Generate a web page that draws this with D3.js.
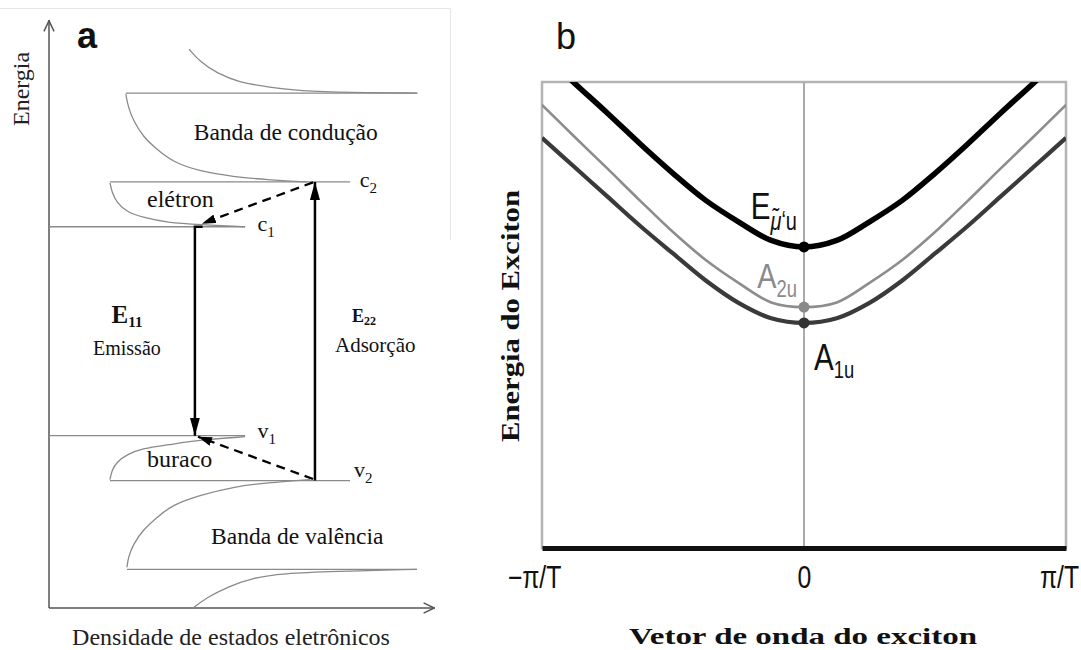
<!DOCTYPE html>
<html><head><meta charset="utf-8">
<script src="https://cdn.jsdelivr.net/npm/d3@7"></script>
<style>
html,body{margin:0;padding:0;background:#fff;}
svg{display:block;}
</style></head><body>
<svg id="fig" width="1081" height="650"></svg>
<script>
// ---------- Panel a: electronic density of states (energy vs DOS) ----------
// band-edge levels: energy and horizontal extent on the DOS axis
const levelNames     = ["c3", "c2", "c1", "v1", "v2", "v3"];
const levelEnergy    = [2.28, 1.43, 1.0, -1.0, -1.43, -2.28];
const levelDosStart  = [1.99, 1.58, 0, 0, 1.58, 2.02];
const levelDosEnd    = [9.55, 7.8, 5.08, 5.08, 7.8, 9.53];

// density-of-states curves, [dos, energy]
const dosAboveC3   = [[3.63,2.70],[3.91,2.58],[4.35,2.47],[4.95,2.38],[5.65,2.34],[6.50,2.30],[7.80,2.285],[9.53,2.28]];
const dosConduction= [[1.99,2.27],[2.05,2.15],[2.18,2.02],[2.44,1.86],[2.80,1.74],[3.21,1.62],[3.91,1.53],[4.77,1.48],[5.65,1.45],[6.68,1.43]];
const dosElectron  = [[1.58,1.42],[1.63,1.33],[1.76,1.23],[2.02,1.14],[2.44,1.09],[3.06,1.04],[3.91,1.02],[5.08,1.0]];
const dosHole      = [[1.58,-1.42],[1.63,-1.33],[1.76,-1.25],[2.02,-1.18],[2.44,-1.12],[3.06,-1.09],[3.91,-1.04],[5.08,-1.01]];
const dosValence   = [[6.76,-1.42],[5.65,-1.45],[4.77,-1.49],[3.91,-1.57],[3.21,-1.66],[2.80,-1.78],[2.44,-1.90],[2.18,-2.04],[2.05,-2.17],[2.02,-2.26]];
const dosBelowV3   = [[3.73,-2.65],[4.09,-2.55],[4.61,-2.45],[5.28,-2.36],[6.06,-2.32],[7.36,-2.30],[9.53,-2.28]];

// optical transitions and relaxation paths, [dos, energy]
const emissionPath   = [[3.98,1.0],[3.78,1.0],[3.78,-1.0]];
const absorptionPath = [[6.89,-1.43],[6.89,1.43]];
const electronRelax  = [[6.84,1.425],[3.96,1.03]];
const holeRelax      = [[6.84,-1.415],[3.86,-1.01]];

// ---------- Panel b: exciton dispersion ----------
const waveVector = [-1,-0.875,-0.75,-0.625,-0.5,-0.375,-0.25,-0.125,0,0.125,0.25,0.375,0.5,0.625,0.75,0.875,1];
const energyEu   = [106.2,99.7,93.3,86.7,80.4,74.6,70.0,66.0,64.6,66.0,70.0,74.6,80.4,86.7,93.3,99.7,106.2];
const energyA2u  = [95.1,88.2,81.4,74.5,67.8,61.8,56.9,52.7,51.7,52.7,56.9,61.8,67.8,74.5,81.4,88.2,95.1];
const energyA1u  = [88.0,81.7,75.4,69.1,63.2,57.4,52.6,49.3,48.3,49.3,52.6,57.4,63.2,69.1,75.4,81.7,88.0];
const tickValuesB = [-1, 0, 1];
const tickLabelsB = ["\u2212\u03C0/T", "0", "\u03C0/T"];

const svg = d3.select("#fig");
const serif = "'Liberation Serif','Times New Roman',serif";
const sans = "'Liberation Sans',Arial,sans-serif";
const condense = 0.8;   // horizontal squeeze for the condensed sans labels
const defs = svg.append("defs");

// arrow markers
function marker(id, w, h, filled) {
  const m = defs.append("marker").attr("id", id)
    .attr("markerUnits", "userSpaceOnUse")
    .attr("viewBox", "0 0 10 10").attr("refX", 10).attr("refY", 5)
    .attr("markerWidth", w).attr("markerHeight", h).attr("orient", "auto")
    .attr("preserveAspectRatio", "none");
  if (filled) m.append("path").attr("d", "M0,0L10,5L0,10Z").attr("fill", "#000");
  else m.append("path").attr("d", "M0.5,0.8L9.5,5L0.5,9.2").attr("fill", "none")
        .attr("stroke", "#555").attr("stroke-width", 1.2);
}
marker("arrowBig", 18, 10, true);
marker("arrowSmall", 14, 9, true);
marker("chevron", 12, 12, false);

// faint panel edge
svg.append("path").attr("d", "M0,8.5H450.5V240").attr("fill", "none")
  .attr("stroke", "#e6e6e6").attr("stroke-width", 1);

// ================= Panel a =================
const xA = d3.scaleLinear().domain([0, 10]).range([49, 435]);
const yA = d3.scaleLinear().domain([-2.65, 2.98]).range([608, 20]);
const gA = svg.append("g");

// axes with open arrowheads
gA.append("line").attr("x1", xA(0)).attr("y1", yA(-2.65)).attr("x2", xA(0)).attr("y2", yA(2.98))
  .attr("stroke", "#555").attr("stroke-width", 1.5).attr("marker-end", "url(#chevron)");
gA.append("line").attr("x1", xA(0)).attr("y1", yA(-2.65)).attr("x2", xA(10)).attr("y2", yA(-2.65))
  .attr("stroke", "#555").attr("stroke-width", 1.5).attr("marker-end", "url(#chevron)");

// band-edge lines
gA.selectAll("line.level").data(levelNames).join("line").attr("class", "level")
  .attr("x1", (d, i) => xA(levelDosStart[i])).attr("x2", (d, i) => xA(levelDosEnd[i]))
  .attr("y1", (d, i) => yA(levelEnergy[i])).attr("y2", (d, i) => yA(levelEnergy[i]))
  .attr("stroke", "#8a8a8a").attr("stroke-width", 1.4);

// DOS curves
const lineA = d3.line().x(d => xA(d[0])).y(d => yA(d[1])).curve(d3.curveBasis);
[dosAboveC3, dosConduction, dosElectron, dosHole, dosValence, dosBelowV3].forEach(c => {
  gA.append("path").attr("d", lineA(c)).attr("fill", "none")
    .attr("stroke", "#8a8a8a").attr("stroke-width", 1.3);
});

// transitions
const lineStraight = d3.line().x(d => xA(d[0])).y(d => yA(d[1]));
gA.append("path").attr("d", lineStraight(emissionPath)).attr("fill", "none")
  .attr("stroke", "#000").attr("stroke-width", 2.5).attr("marker-end", "url(#arrowBig)");
gA.append("path").attr("d", lineStraight(absorptionPath)).attr("fill", "none")
  .attr("stroke", "#000").attr("stroke-width", 2.5).attr("marker-end", "url(#arrowBig)");
[electronRelax, holeRelax].forEach(p => {
  gA.append("path").attr("d", lineStraight(p)).attr("fill", "none")
    .attr("stroke", "#000").attr("stroke-width", 2.3).attr("stroke-dasharray", "9,6")
    .attr("marker-end", "url(#arrowSmall)");
});

// level labels (c1, c2, v1, v2): [dos position, level index, baseline offset]
const levelLabels = [["c2", 8.05, 1, 5], ["c1", 5.4, 2, 4], ["v1", 5.4, 3, 2], ["v2", 7.9, 4, -4]];
levelLabels.forEach(([name, dos, li, off]) => {
  const t = gA.append("text").attr("x", xA(dos)).attr("y", yA(levelEnergy[li]) + off)
    .attr("font-family", serif).attr("font-size", 22).attr("fill", "#111");
  t.append("tspan").text(name[0]);
  t.append("tspan").attr("font-size", 15).attr("dy", 6).text(name[1]);
});

// band and carrier names
const textA = (x, y, s, size) => gA.append("text").attr("x", x).attr("y", y)
  .attr("font-family", serif).attr("font-size", size).attr("fill", "#111").text(s);
textA(xA(3.75), yA(1.83), "Banda de condução", 23.5);
textA(xA(2.54), yA(1.19), "elétron", 24);
textA(xA(2.54), yA(-1.3), "buraco", 24);
textA(xA(4.2), yA(-2.04), "Banda de valência", 23.5);

// transition labels
const e11 = gA.append("text").attr("x", xA(1.62)).attr("y", yA(0.08)).attr("font-family", serif)
  .attr("font-weight", "bold").attr("font-size", 25).attr("fill", "#111");
e11.append("tspan").text("E");
e11.append("tspan").attr("font-size", 15).attr("dy", 4).text("11");
textA(xA(1.14), yA(-0.23), "Emissão", 20);
const e22 = gA.append("text").attr("x", xA(7.85)).attr("y", yA(0.09)).attr("font-family", serif)
  .attr("font-weight", "bold").attr("font-size", 18).attr("fill", "#111");
e22.append("tspan").text("E");
e22.append("tspan").attr("font-size", 12).attr("dy", 3).text("22");
textA(xA(7.41), yA(-0.2), "Adsorção", 21);

// axis titles
gA.append("text").attr("transform", `translate(29,${yA(2.32)}) rotate(-90)`)
  .attr("text-anchor", "middle").attr("font-family", serif).attr("font-size", 24)
  .attr("fill", "#222").text("Energia");
gA.append("text").attr("x", 231).attr("y", 645).attr("text-anchor", "middle")
  .attr("font-family", serif).attr("font-size", 24).attr("fill", "#222")
  .text("Densidade de estados eletrônicos");

// panel letter
svg.append("text").attr("x", 77).attr("y", 48).attr("font-family", sans)
  .attr("font-weight", "bold").attr("font-size", 36).attr("fill", "#111").text("a");

// ================= Panel b =================
const xB = d3.scaleLinear().domain([-1, 1]).range([542, 1066]);
const yB = d3.scaleLinear().domain([0, 100]).range([548, 82]);
const gB = svg.append("g");

defs.append("clipPath").attr("id", "plotB").append("rect")
  .attr("x", xB(-1)).attr("y", yB(100)).attr("width", xB(1) - xB(-1)).attr("height", yB(0) - yB(100));

// frame and zone-centre line
gB.append("rect").attr("x", xB(-1)).attr("y", yB(100)).attr("width", xB(1) - xB(-1))
  .attr("height", yB(0) - yB(100)).attr("fill", "none").attr("stroke", "#b4b4b4").attr("stroke-width", 2.5);
gB.append("line").attr("x1", xB(0)).attr("x2", xB(0)).attr("y1", yB(100)).attr("y2", yB(0))
  .attr("stroke", "#aaa").attr("stroke-width", 2);

// dispersion curves
const series = [
  { vals: energyA1u, color: "#3a3a3a", width: 4.2, dot: "#333" },
  { vals: energyA2u, color: "#8c8c8c", width: 2.6, dot: "#8a8a8a" },
  { vals: energyEu,  color: "#000",    width: 5.5, dot: "#000" }
];
const lineB = d3.line().x((d, i) => xB(waveVector[i])).y(d => yB(d)).curve(d3.curveCatmullRom.alpha(0.5));
const curves = gB.append("g").attr("clip-path", "url(#plotB)");
series.forEach(s => {
  curves.append("path").attr("d", lineB(s.vals)).attr("fill", "none")
    .attr("stroke", s.color).attr("stroke-width", s.width).attr("stroke-linejoin", "round");
});
const i0 = waveVector.indexOf(0);
series.forEach(s => {
  gB.append("circle").attr("cx", xB(0)).attr("cy", yB(s.vals[i0])).attr("r", 5.5).attr("fill", s.dot);
});

// state labels (condensed sans)
const condensedText = (x, y, anchor, size, color) => gB.append("text")
  .attr("transform", `translate(${x},${y}) scale(${condense},1)`)
  .attr("text-anchor", anchor).attr("font-family", sans).attr("font-size", size).attr("fill", color);

const eLab = condensedText(xB(0) - 7, yB(energyEu[i0]) - 28, "end", 37, "#111");
eLab.append("tspan").text("E");
eLab.append("tspan").attr("font-size", 25).attr("dy", 11).attr("font-style", "italic").text("\u03BC\u0303");
eLab.append("tspan").attr("font-size", 25).text("\u02BBu");

const a2Lab = condensedText(xB(0) - 7, yB(energyA2u[i0]) - 19, "end", 36, "#8a8a8a");
a2Lab.append("tspan").text("A");
a2Lab.append("tspan").attr("font-size", 23).attr("dy", 9).text("2u");

const a1Lab = condensedText(xB(0) + 10, yB(energyA1u[i0]) + 47, "start", 37, "#111");
a1Lab.append("tspan").text("A");
a1Lab.append("tspan").attr("font-size", 23).attr("dy", 8).text("1u");

// wave-vector axis
const tickShift = [-8, 0, -7];
const axB = gB.append("g").attr("transform", `translate(0,${yB(0)})`)
  .call(d3.axisBottom(xB).tickValues(tickValuesB).tickFormat((d, i) => tickLabelsB[i])
    .tickSize(0).tickSizeOuter(0).tickPadding(18));
axB.select(".domain").attr("stroke", "#111").attr("stroke-width", 5);
axB.selectAll(".tick text").attr("font-family", sans).attr("font-size", 31).attr("fill", "#111")
  .attr("transform", (d, i) => `translate(${tickShift[i]},0) scale(${condense},1)`);

// axis titles
gB.append("text").attr("x", 803).attr("y", 644).attr("text-anchor", "middle")
  .attr("font-family", serif).attr("font-weight", "bold").attr("font-size", 24).attr("fill", "#111")
  .attr("textLength", 348).attr("lengthAdjust", "spacingAndGlyphs").text("Vetor de onda do exciton");
gB.append("text").attr("transform", "translate(519,316) rotate(-90)").attr("text-anchor", "middle")
  .attr("font-family", serif).attr("font-weight", "bold").attr("font-size", 26).attr("fill", "#111")
  .attr("textLength", 252).attr("lengthAdjust", "spacingAndGlyphs").text("Energia do Exciton");

svg.append("text").attr("x", 556).attr("y", 49).attr("font-family", sans)
  .attr("font-size", 36).attr("fill", "#111").text("b");
</script>
</body></html>
